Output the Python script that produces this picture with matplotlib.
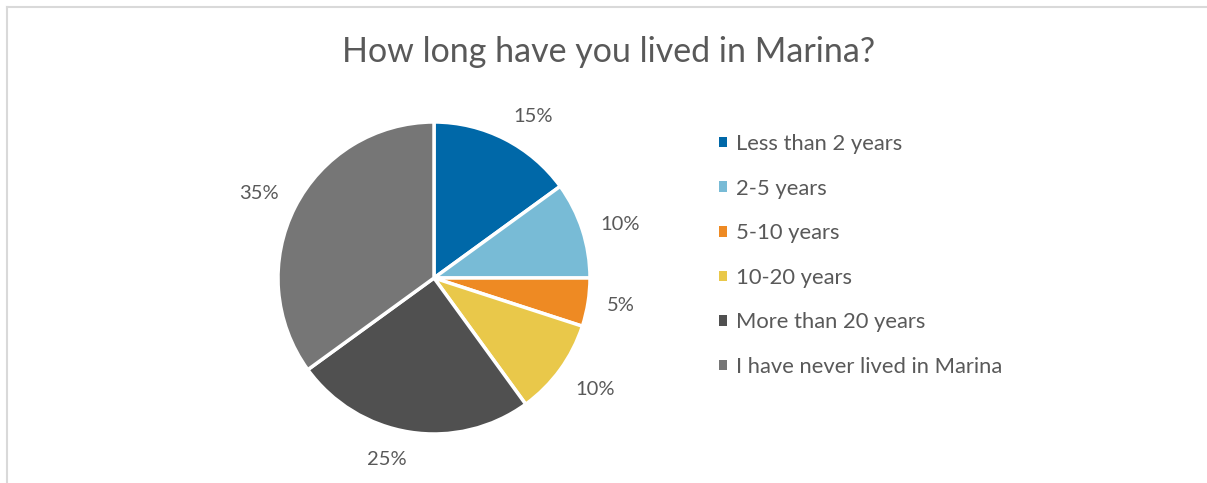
import numpy as np
import matplotlib.pyplot as plt
from matplotlib.patches import Patch
from matplotlib.lines import Line2D

# survey answers
categories = ["Less than 2 years", "2-5 years", "5-10 years", "10-20 years",
              "More than 20 years", "I have never lived in Marina"]
shares = [15, 10, 5, 10, 25, 35]
colors = ["#0068A8", "#78BBD6", "#EE8A23", "#E9C84A", "#505050", "#767676"]

plt.rcParams['font.family'] = ['Lato', 'DejaVu Sans']
text_col = "#595959"

W, H = 1207, 483
fig = plt.figure(figsize=(W/100, H/100), dpi=100)

# pie centre and radius in pixels
cx, cy, r = 434, 278, 156
ax = fig.add_axes([(cx-r)/W, (H-cy-r)/H, 2*r/W, 2*r/H])
wedges, texts, autotexts = ax.pie(
    shares, colors=colors, startangle=90, counterclock=False,
    autopct=lambda p: f"{p:.0f}%", pctdistance=1.12,
    wedgeprops=dict(edgecolor="white", linewidth=2.5),
    textprops=dict(color=text_col, fontsize=14.5))

# excel-like "best fit": label box sits just outside the rim, on the outward side
for w, t in zip(wedges, autotexts):
    ang = np.deg2rad((w.theta1 + w.theta2) / 2)
    ux, uy = np.cos(ang), np.sin(ang)
    t.set_position((1.12*ux, 1.12*uy))
    t.set_ha('left' if ux > 0.1 else ('right' if ux < -0.1 else 'center'))
    t.set_va('baseline' if uy > 0.35 else ('top' if uy < -0.35 else 'center'))
    t.set_clip_on(False)
ax.set_xlim(-1, 1)
ax.set_ylim(-1, 1)
ax.axis('off')

fig.text(609/W, 1-52/H, "How long have you lived in Marina?", ha='center', va='center',
         fontsize=24.5, color=text_col)

handles = [Patch(facecolor=c, edgecolor='none') for c in colors]
leg = fig.legend(handles, categories, loc='upper left', bbox_to_anchor=(719/W, 1-134/H),
                 frameon=False, fontsize=15.8, labelcolor=text_col, handlelength=0.36,
                 handleheight=0.36, handletextpad=0.41, labelspacing=1.12,
                 borderpad=0, borderaxespad=0)

# chart frame (top and left edges)
fig.add_artist(Line2D([7/W, 1], [1-7/H, 1-7/H], color="#D9D9D9", lw=1.5))
fig.add_artist(Line2D([7/W, 7/W], [0, 1-7/H], color="#D9D9D9", lw=1.5))

fig.savefig("out.png", dpi=100, facecolor="white")
